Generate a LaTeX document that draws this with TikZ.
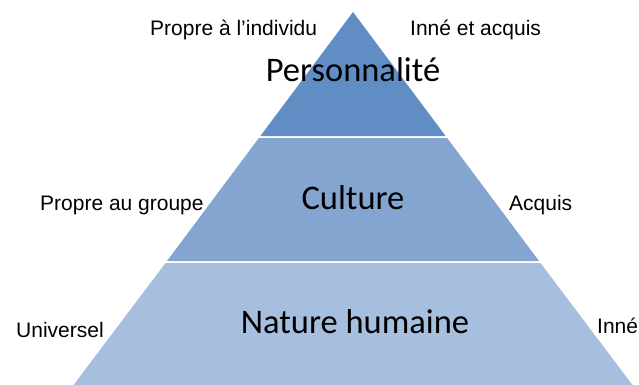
\documentclass[tikz,border=0pt]{standalone}
\usepackage{fontspec}
\setmainfont{Liberation Sans}
\newfontfamily\bigfont{Carlito}
\definecolor{tiertop}{RGB}{96,141,196}
\definecolor{tiermid}{RGB}{132,165,207}
\definecolor{tierbot}{RGB}{167,191,222}
\begin{document}
\begin{tikzpicture}[x = 1pt, y = -1pt, yscale = 1, xscale = 1]
\useasboundingbox (0, 0) rectangle (639, 385);
\fill [tiertop] (353, 12) -- (445.6, 136) -- (260.4, 136) -- cycle;
\fill [tiermid] (258.9, 138) -- (447.1, 138) -- (539, 261) -- (167, 261) -- cycle;
\fill [tierbot] (165.5, 263) -- (540.5, 263) -- (632.5, 385) -- (73.5, 385) -- cycle;
\draw (353, 82) node (perso) [anchor = base][inner sep = 0pt] {\bigfont\fontsize{34.5}{38}\selectfont Personnalité};
\draw (353, 209) node (culture) [anchor = base][inner sep = 0pt] {\bigfont\fontsize{34.5}{38}\selectfont Culture};
\draw (355, 333) node (nature) [anchor = base][inner sep = 0pt] {\bigfont\fontsize{34.5}{38}\selectfont Nature humaine};
\draw (150, 36) node (individu) [anchor = base west][inner sep = 0pt][align = left] {\fontsize{21}{25}\selectfont Propre à l’individu};
\draw (410, 36) node (inneacq) [anchor = base west][inner sep = 0pt][align = left] {\fontsize{21}{25}\selectfont Inné et acquis};
\draw (40, 210) node (groupe) [anchor = base west][inner sep = 0pt][align = left] {\fontsize{21}{25}\selectfont Propre au groupe};
\draw (509, 210) node (acquis) [anchor = base west][inner sep = 0pt][align = left] {\fontsize{21}{25}\selectfont Acquis};
\draw (16, 337) node (universel) [anchor = base west][inner sep = 0pt][align = left] {\fontsize{21}{25}\selectfont Universel};
\draw (597, 333) node (inne) [anchor = base west][inner sep = 0pt][align = left] {\fontsize{21}{25}\selectfont Inné};
\end{tikzpicture}
\end{document}
